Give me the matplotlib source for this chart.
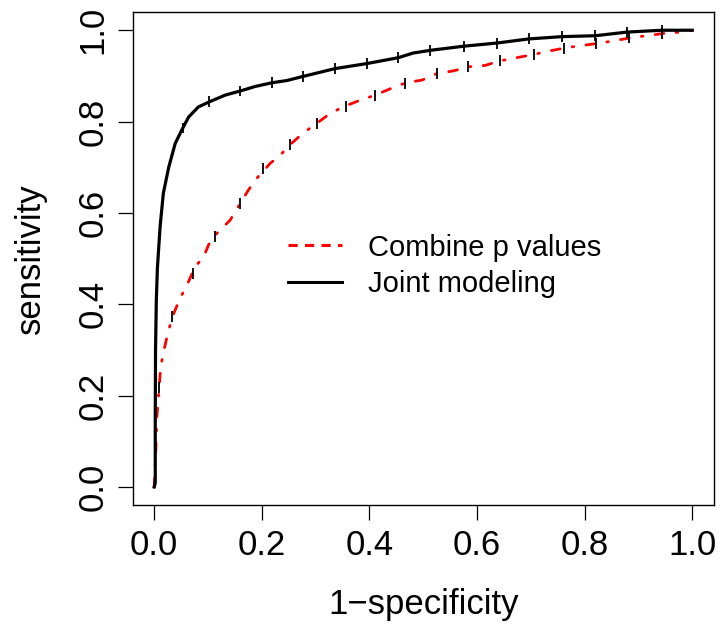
import numpy as np
import matplotlib.pyplot as plt
from matplotlib.lines import Line2D

plt.rcParams['font.family'] = ['Liberation Sans', 'DejaVu Sans']

# curva "Joint modeling" (nera)
fpr_joint = [0, 0.002, 0.002, 0.0025, 0.004, 0.006, 0.0085, 0.011, 0.017, 0.027, 0.039,
             0.051, 0.064, 0.082, 0.102, 0.132, 0.16, 0.188, 0.219, 0.247, 0.277, 0.336,
             0.395, 0.454, 0.481, 0.513, 0.575, 0.637, 0.696, 0.758, 0.82, 0.879, 0.944, 1.0]
tpr_joint = [0, 0.009, 0.154, 0.30, 0.41, 0.48, 0.525, 0.57, 0.643, 0.70, 0.752,
             0.781, 0.81, 0.832, 0.843, 0.858, 0.867, 0.877, 0.885, 0.89, 0.899, 0.916,
             0.927, 0.94, 0.95, 0.956, 0.965, 0.972, 0.981, 0.986, 0.988, 0.996, 1.0, 1.0]

# curva "Combine p values" (rossa)
fpr_comb = [0, 0.002, 0.004, 0.005, 0.008, 0.012, 0.019, 0.027, 0.035, 0.048, 0.061, 0.076,
            0.092, 0.101, 0.117, 0.141, 0.16, 0.175, 0.193, 0.216, 0.234, 0.253, 0.277,
            0.302, 0.327, 0.355, 0.383, 0.411, 0.439, 0.468, 0.498, 0.525, 0.556, 0.584,
            0.615, 0.643, 0.674, 0.705, 0.736, 0.767, 0.798, 0.829, 0.86, 0.888, 0.922,
            0.953, 0.983, 1.0]
tpr_comb = [0, 0.05, 0.11, 0.154, 0.198, 0.263, 0.304, 0.344, 0.376, 0.413, 0.442, 0.482,
            0.504, 0.53, 0.556, 0.584, 0.621, 0.65, 0.679, 0.709, 0.726, 0.75, 0.775,
            0.796, 0.818, 0.834, 0.847, 0.858, 0.872, 0.885, 0.891, 0.905, 0.911, 0.92,
            0.923, 0.933, 0.94, 0.947, 0.955, 0.962, 0.967, 0.972, 0.978, 0.984, 0.989,
            0.994, 0.996, 1.0]

# barrette verticali (dispersione) sulle curve
bar_x_joint = [0.053, 0.102, 0.16, 0.219, 0.277, 0.336, 0.395, 0.454, 0.513, 0.575, 0.637,
               0.696, 0.758, 0.82, 0.879, 0.944]
bar_y_joint = [0.786, 0.843, 0.867, 0.885, 0.899, 0.916, 0.927, 0.94, 0.956, 0.965, 0.972,
               0.981, 0.986, 0.988, 0.996, 1.0]
bar_x_comb = [0.009, 0.033, 0.072, 0.113, 0.16, 0.203, 0.253, 0.302, 0.357, 0.411,
              0.467, 0.525, 0.584, 0.643, 0.705, 0.762, 0.822, 0.883, 0.944]
bar_y_comb = [0.217, 0.373, 0.468, 0.548, 0.621, 0.697, 0.75, 0.796, 0.834, 0.858,
              0.883, 0.905, 0.92, 0.933, 0.947, 0.961, 0.972, 0.983, 0.993]
bar_err = 0.012

fig = plt.figure(figsize=(7.21, 6.3), dpi=100)
ax = fig.add_axes([0.184, 0.198, 0.806, 0.783])

ax.plot(fpr_comb, tpr_comb, color='red', lw=2.0,
        linestyle=(0, (3.2, 4.4, 0.6, 4.4)), dash_capstyle='round')
ax.plot(fpr_joint, tpr_joint, color='black', lw=2.3)
ax.errorbar(bar_x_comb, bar_y_comb, yerr=bar_err, fmt='none', ecolor='black', elinewidth=1.3)
ax.errorbar(bar_x_joint, bar_y_joint, yerr=bar_err, fmt='none', ecolor='black', elinewidth=1.3)

ax.set_xlim(-0.04, 1.04)
ax.set_ylim(-0.04, 1.04)
ticks = [0.0, 0.2, 0.4, 0.6, 0.8, 1.0]
ax.set_xticks(ticks)
ax.set_yticks(ticks)
ax.set_xticklabels([f'{t:.1f}' for t in ticks])
ax.set_yticklabels([f'{t:.1f}' for t in ticks], rotation=90, va='center')
ax.tick_params(labelsize=25, length=10.8, width=0.9, pad=6)
for s in ax.spines.values():
    s.set_linewidth(1.0)

ax.set_xlabel('1\u2212specificity', fontsize=25, va='center')
ax.set_ylabel('sensitivity', fontsize=25, va='center')
ax.xaxis.set_label_coords(0.5, -0.202)
ax.yaxis.set_label_coords(-0.175, 0.5)

handles = [Line2D([], [], color='red', lw=2.2, linestyle=(0, (3, 2.4))),
           Line2D([], [], color='black', lw=2.2)]
ax.legend(handles, ['Combine p values', 'Joint modeling'], frameon=False, fontsize=21,
          loc='center left', bbox_to_anchor=(288 / 721, 1 - 266 / 630),
          bbox_transform=fig.transFigure, borderpad=0, borderaxespad=0,
          handlelength=1.85, handletextpad=0.9, labelspacing=0.3)

fig.savefig('out.png', dpi=100)
